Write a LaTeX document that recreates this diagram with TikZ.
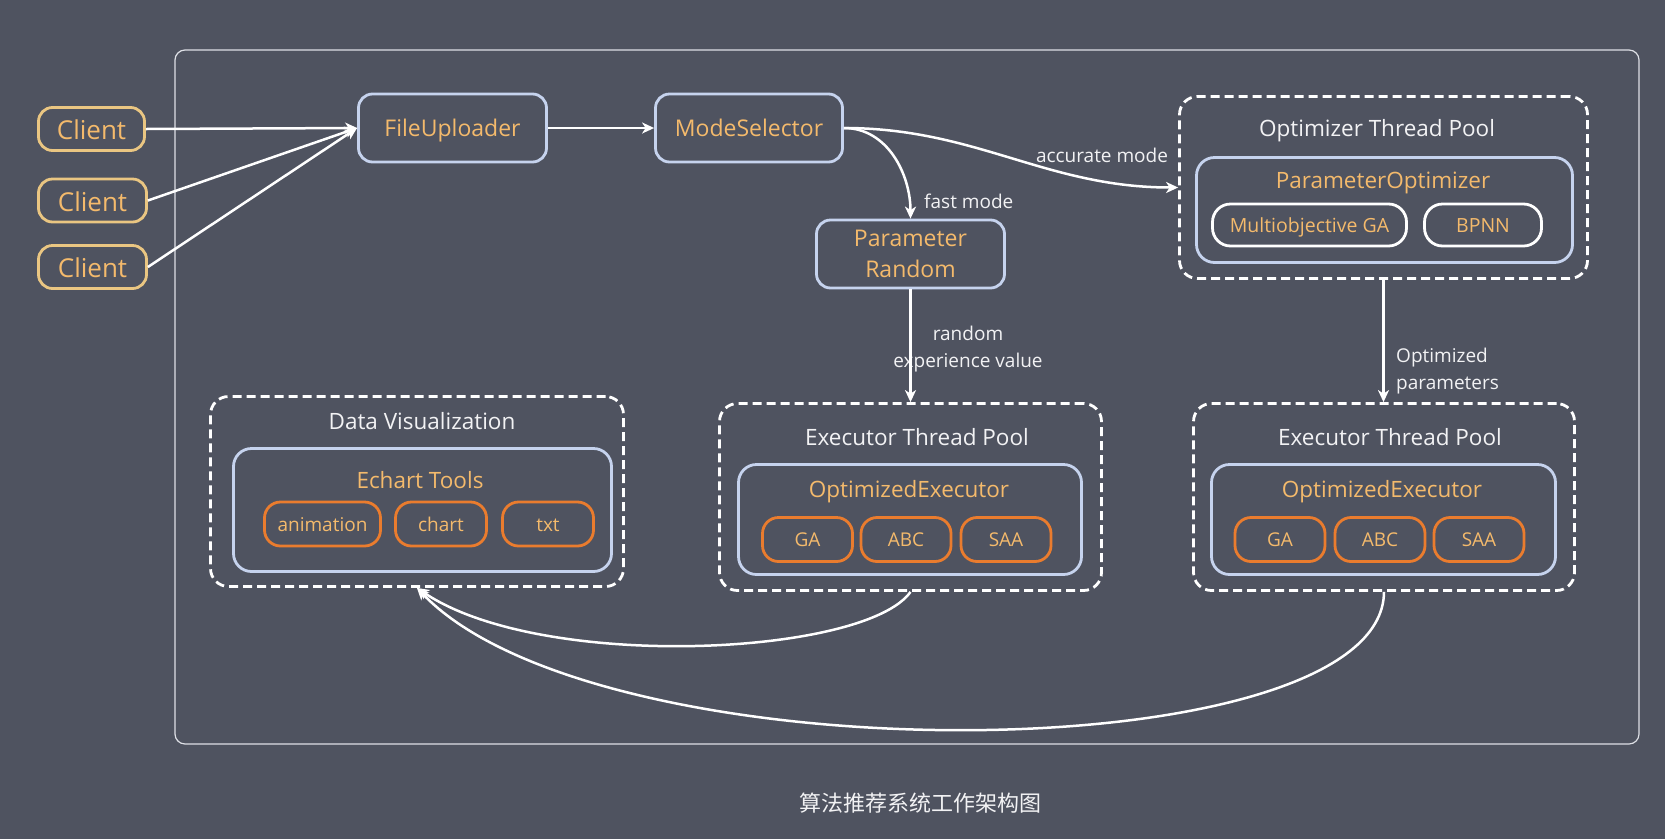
\documentclass[tikz,border=0pt]{standalone}
\usepackage{fontspec}
\setmainfont{Open Sans}
\newfontfamily\cjk{Noto Sans CJK SC}
\usetikzlibrary{arrows.meta}
\definecolor{bgc}{RGB}{79,83,96}
\definecolor{framec}{RGB}{222,224,230}
\definecolor{lblue}{RGB}{198,211,238}
\definecolor{otext}{RGB}{244,186,108}
\definecolor{oborder}{RGB}{234,124,46}
\definecolor{sand}{RGB}{234,198,130}
\definecolor{wtext}{RGB}{242,242,244}
\tikzset{
  capc/.style={text height=#1, text depth=0pt},
  box/.style={draw=lblue, line width=2.8pt, rounded corners=14pt, text=otext, align=center, inner sep=0pt, font=\fontsize{23}{30.5}\selectfont},
  clientbox/.style={draw=sand, line width=2.8pt, rounded corners=14pt, text=otext, inner sep=0pt, font=\fontsize{26}{30}\selectfont, minimum width=106pt, minimum height=43pt, capc=21pt},
  pool/.style={draw=white, line width=2.8pt, dash pattern=on 9pt off 5pt, rounded corners=18pt, inner sep=0pt},
  inner/.style={draw=lblue, line width=2.8pt, rounded corners=18pt, inner sep=0pt},
  alg/.style={draw=oborder, line width=2.8pt, rounded corners=16pt, text=otext, inner sep=0pt, minimum height=44pt, minimum width=90pt, font=\fontsize{19}{23}\selectfont, capc=14pt},
  wbox/.style={draw=white, line width=2.8pt, rounded corners=18pt, text=otext, inner sep=0pt, minimum height=42pt, font=\fontsize{19.5}{23}\selectfont, capc=14.5pt},
  title/.style={text=wtext, inner sep=0pt, font=\fontsize{22.5}{27}\selectfont, capc=16pt},
  otitle/.style={text=otext, inner sep=0pt, font=\fontsize{22.5}{27}\selectfont, capc=16pt},
  lbl/.style={text=wtext, inner sep=0pt, font=\fontsize{19}{26.5}\selectfont},
  arr/.style={draw=white, line width=2.5pt, -{Stealth[length=12pt,width=11pt,inset=3.5pt]}},
}
\begin{document}
\begin{tikzpicture}[x=1pt,y=-1pt]
\fill[bgc] (0,0) rectangle (1665,839);
\useasboundingbox (0,0) rectangle (1665,839);
\draw[framec, line width=1.2pt, rounded corners=10pt] (175,50) rectangle (1639,744);

% clients
\node[clientbox] (c1) at (91.5,129) {Client};
\node[clientbox, minimum width=108pt] (c2) at (92.5,200.5) {Client};
\node[clientbox, minimum width=108pt] (c3) at (92.5,267) {Client};

% main boxes
\node[box, capc=16.5pt, minimum width=188pt, minimum height=68pt] (fu) at (452.5,128) {FileUploader};
\node[box, capc=16.5pt, minimum width=187pt, minimum height=68pt] (ms) at (749,128) {ModeSelector};
\node[box, minimum width=188pt, minimum height=68pt] (pr) at (910.5,254) {Parameter\\Random};

% optimizer thread pool
\node[pool, minimum width=408pt, minimum height=182pt] (otp) at (1383.5,187.5) {};
\node[title] (otpT) at (1377,128) {Optimizer Thread Pool};
\node[inner, minimum width=376pt, minimum height=105pt] (po) at (1384.5,210) {};
\node[otitle] (poT) at (1383,180) {ParameterOptimizer};
\node[wbox, minimum width=194pt] (mga) at (1309.5,225) {Multiobjective GA};
\node[wbox, minimum width=117pt] (bpnn) at (1483,225) {BPNN};

% data visualization
\node[pool, minimum width=413pt, minimum height=190pt] (dv) at (417,491.5) {};
\node[title] (dvT) at (422,421) {Data Visualization};
\node[inner, minimum width=378pt, minimum height=123pt] (et) at (422.5,510) {};
\node[otitle] (etT) at (420,480) {Echart Tools};
\node[alg, minimum width=116pt] (anim) at (322.5,524) {animation};
\node[alg, minimum width=91pt] (chart) at (441,524) {chart};
\node[alg, minimum width=91pt] (txt) at (548,524) {txt};

% executor thread pool 1
\node[pool, minimum width=382pt, minimum height=187pt] (etp1) at (910.5,497) {};
\node[title] (etp1T) at (917,437) {Executor Thread Pool};
\node[inner, minimum width=343pt, minimum height=110pt] (oe1) at (910,519.5) {};
\node[otitle] (oe1T) at (909,489) {OptimizedExecutor};
\node[alg] (ga1) at (807.5,539.5) {GA};
\node[alg] (abc1) at (906,539.5) {ABC};
\node[alg] (saa1) at (1006,539.5) {SAA};

% executor thread pool 2
\node[pool, minimum width=381pt, minimum height=187pt] (etp2) at (1384,497) {};
\node[title] (etp2T) at (1390,437) {Executor Thread Pool};
\node[inner, minimum width=344pt, minimum height=110pt] (oe2) at (1383.5,519.5) {};
\node[otitle] (oe2T) at (1382,489) {OptimizedExecutor};
\node[alg] (ga2) at (1280,539.5) {GA};
\node[alg] (abc2) at (1380,539.5) {ABC};
\node[alg] (saa2) at (1479,539.5) {SAA};

% labels
\node[lbl, anchor=west] (fastL) at (924,201) {fast mode};
\node[lbl] (accL) at (1102,155) {accurate mode};
\node[lbl, align=center] (randL) at (968,349) {random\\experience value};
\node[lbl, align=left, anchor=west] (optL) at (1396,371) {Optimized\\parameters};

% connectors
\draw[arr] (c1.east) -- (fu.west);
\draw[arr] (c2.east) -- (fu.west);
\draw[arr] (c3.east) -- (fu.west);
\draw[arr] (fu.east) -- (ms.west);
\draw[arr] (ms.east) to[out=0,in=90] (pr.north);
\draw[arr] (ms.east) to[out=0,in=180] (otp.west);
\draw[arr] (pr.south) -- (etp1.north);
\draw[arr] (otp.south) -- (otp.south |- etp2.north);
\draw[arr] (etp1.south) .. controls (865,656) and (540,672) .. (dv.south);
\draw[arr] (etp2.south) .. controls (1383,772) and (600,780) .. (dv.south);

% caption
\node[text=wtext, inner sep=0pt, font=\cjk\fontsize{22}{26}\selectfont] (cap) at (920,803) {算法推荐系统工作架构图};
\end{tikzpicture}
\end{document}
